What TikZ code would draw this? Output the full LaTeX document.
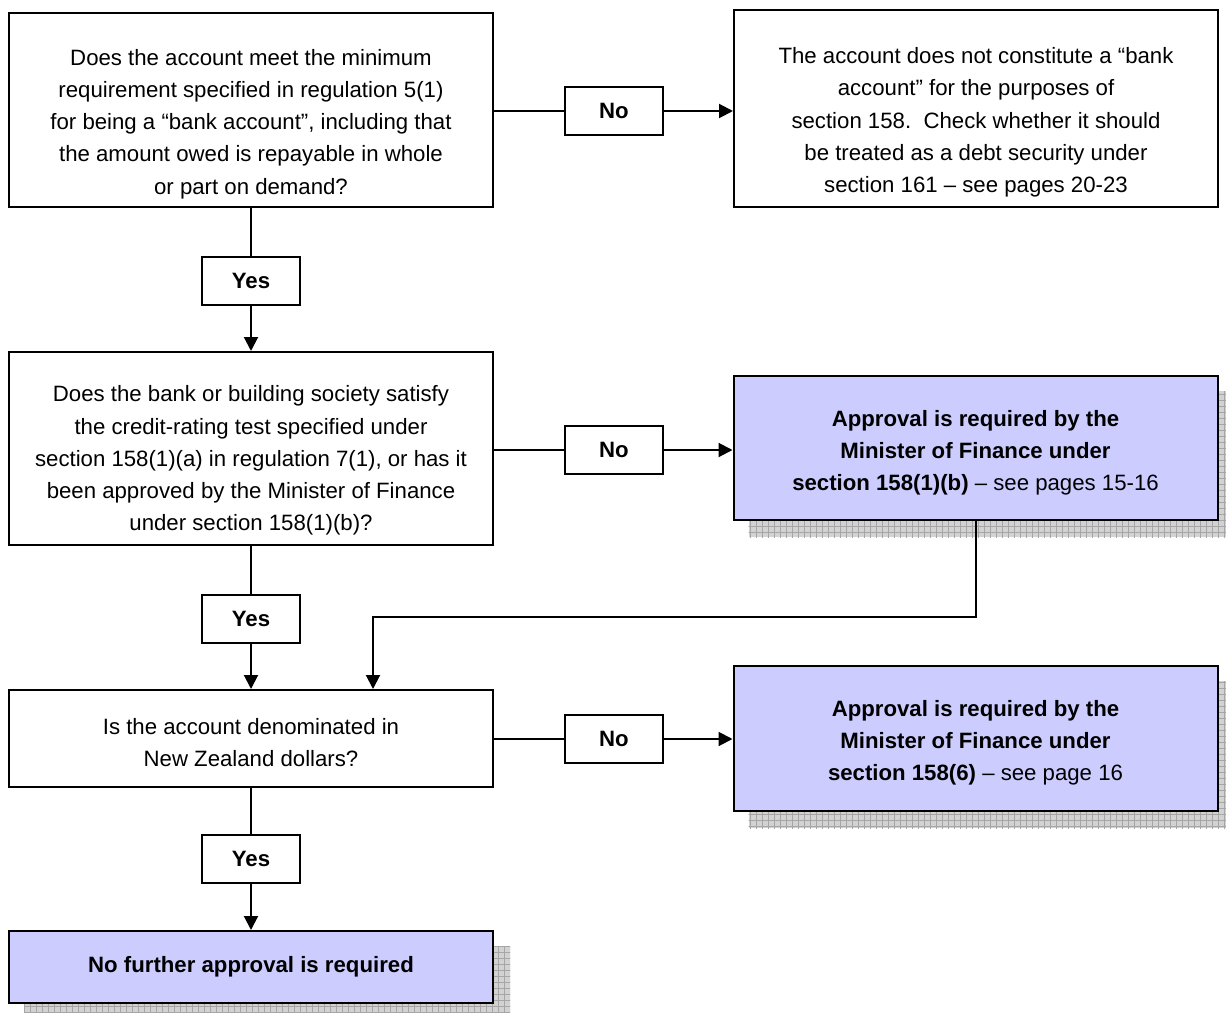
\documentclass[tikz,border=0pt]{standalone}
\usepackage{fontspec}
\setmainfont{Liberation Sans}
\usetikzlibrary{arrows.meta,patterns,backgrounds,calc}
\definecolor{approvalblue}{HTML}{CCCCFF}
\newcommand{\textgap}[1]{\rule{0pt}{#1}}
\tikzset{
  box/.style={draw,line width=1pt,align=center,inner sep=2pt,
    minimum width=242pt,font=\fontsize{11.1}{16.1}\selectfont},
  approval/.style={box,fill=approvalblue},
  answer/.style={draw,line width=1pt,minimum width=49pt,minimum height=24pt,
    inner sep=1pt,font=\fontsize{11.1}{13}\selectfont\bfseries},
  flow/.style={line width=1pt},
  arrowflow/.style={flow,-{Triangle[length=7pt,width=7pt]}},
  boxshadow/.style={fill=gray!35,postaction={pattern=grid,pattern color=gray!70}}
}
\begin{document}
\begin{tikzpicture}[x=0.5pt,y=-0.5pt]
\useasboundingbox (0,0) rectangle (1226,1012);
% questions on the left
\node[box,minimum height=97pt] (account) at (251,110) {\textgap{22pt}Does the account meet the minimum\\
  requirement specified in regulation 5(1)\\ for being a “bank account”, including that\\
  the amount owed is repayable in whole\\ or part on demand?};
\node[box,minimum height=96.5pt] (rating) at (251,448.5) {\textgap{20pt}Does the bank or building society satisfy\\
  the credit-rating test specified under\\ section 158(1)(a) in regulation 7(1), or has it\\
  been approved by the Minister of Finance\\ under section 158(1)(b)?};
\node[box,minimum height=48.5pt] (denom) at (251,738.5) {\textgap{12pt}Is the account denominated in\\ New Zealand dollars?};
\node[approval,minimum height=36pt] (nofurther) at (251,967) {\bfseries No further approval is required};
% outcomes on the right
\node[box,minimum height=98.5pt] (notbank) at (976,108.5) {\textgap{22pt}The account does not constitute a “bank\\
  account” for the purposes of\\ section 158.\ \ Check whether it should\\
  be treated as a debt security under\\ section 161 – see pages 20-23};
\node[approval,minimum height=72pt] (approvalb) at (975.5,448) {\textgap{13pt}\bfseries Approval is required by the\\
  \bfseries Minister of Finance under\\ \textbf{section 158(1)(b)} – see pages 15-16};
\node[approval,minimum height=72.5pt] (approvalsix) at (975.5,738.5) {\textgap{12pt}\bfseries Approval is required by the\\
  \bfseries Minister of Finance under\\ \textbf{section 158(6)} – see page 16};
% shadows
\begin{scope}[on background layer]
\foreach \n in {nofurther,approvalb,approvalsix}
  \path[boxshadow] ($(\n.north west)+(16,16)$) rectangle ($(\n.south east)+(16,16)$);
\end{scope}
% answers
\node[answer] (no1) at (614,111) {No};
\node[answer] (no2) at (614,450) {No};
\node[answer] (no3) at (614,739) {No};
\node[answer] (yes1) at (251,281) {Yes};
\node[answer] (yes2) at (251,619) {Yes};
\node[answer] (yes3) at (251,859) {Yes};
\coordinate (bend) at (373,617);
% connectors
\draw[flow] (account.east |- no1) -- (no1);
\draw[arrowflow] (no1) -- (notbank.west |- no1);
\draw[flow] (account) -- (yes1);
\draw[arrowflow] (yes1) -- (rating);
\draw[flow] (rating.east |- no2) -- (no2);
\draw[arrowflow] (no2) -- (approvalb.west |- no2);
\draw[flow] (rating) -- (yes2);
\draw[arrowflow] (yes2) -- (denom);
\draw[arrowflow] (approvalb.south) |- (bend) -- (bend |- denom.north);
\draw[flow] (denom.east |- no3) -- (no3);
\draw[arrowflow] (no3) -- (approvalsix.west |- no3);
\draw[flow] (denom) -- (yes3);
\draw[arrowflow] (yes3) -- (nofurther);
\end{tikzpicture}
\end{document}
